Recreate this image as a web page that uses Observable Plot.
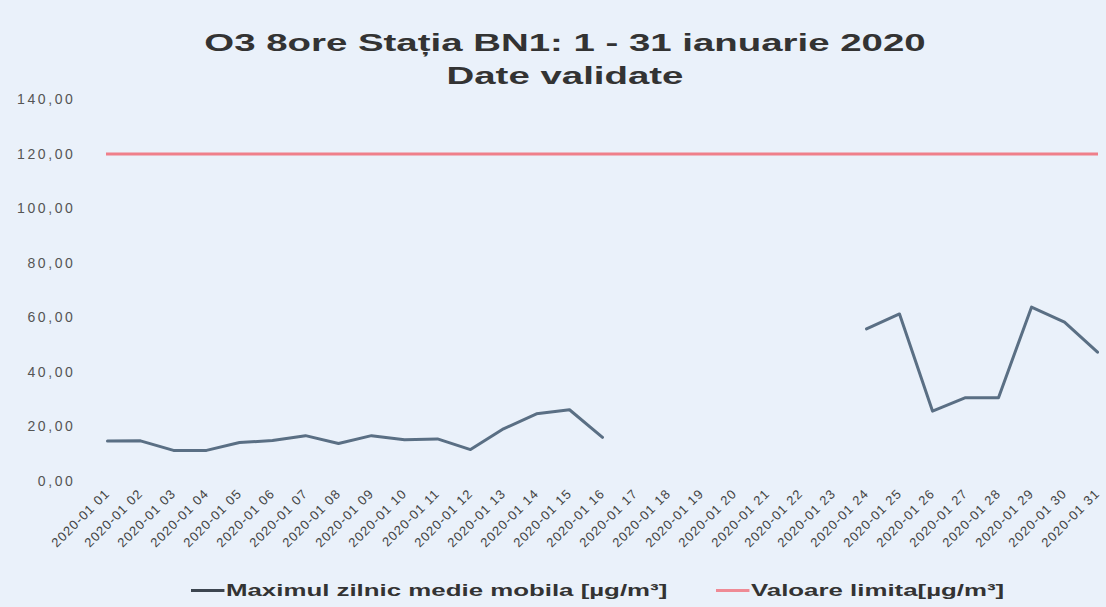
<!DOCTYPE html>
<html>
<head>
<meta charset="utf-8">
<script src="https://cdn.jsdelivr.net/npm/d3@7"></script>
<script src="https://cdn.jsdelivr.net/npm/@observablehq/plot@0.6"></script>
<style>
  html, body { margin: 0; padding: 0; background: #f1f3fa; }
  #wrap { position: relative; width: 1106px; height: 607px; background: #eaf1fa; overflow: hidden; font-family: "Liberation Sans", Arial, sans-serif; }
  #title { position: absolute; left: 0; top: 26px; width: 1130px; text-align: center; font-weight: bold; font-size: 24px; line-height: 33px; color: #333; transform: scaleX(1.6); transform-origin: 565px 0; }
  #chart { position: absolute; left: 0; top: 90px; }
  #chart g[aria-label="y-axis tick label"] text { letter-spacing: 2.6px; }
  #chart g[aria-label="x-axis tick label"] text { letter-spacing: 1px; }
  .leg { position: absolute; top: 581px; font-weight: bold; font-size: 17px; color: #333; white-space: nowrap; transform: scaleX(1.52); transform-origin: 0 0; }
  .sw { display: inline-block; width: 22px; height: 3px; vertical-align: middle; margin-right: 1px; position: relative; top: -1px; }
</style>
</head>
<body>
<div id="wrap">
  <div id="title">O3 8ore Stația BN1: 1 - 31 ianuarie 2020<br>Date validate</div>
  <div id="chart"></div>
  <div class="leg" style="left:191px"><span class="sw" style="background:#3d4650"></span>Maximul zilnic medie mobila [µg/m³]</div>
  <div class="leg" style="left:716px"><span class="sw" style="background:#ef8a95"></span>Valoare limita[µg/m³]</div>
</div>
<script>
const dates = [
  "2020-01 01","2020-01 02","2020-01 03","2020-01 04","2020-01 05","2020-01 06","2020-01 07","2020-01 08",
  "2020-01 09","2020-01 10","2020-01 11","2020-01 12","2020-01 13","2020-01 14","2020-01 15","2020-01 16",
  "2020-01 17","2020-01 18","2020-01 19","2020-01 20","2020-01 21","2020-01 22","2020-01 23","2020-01 24",
  "2020-01 25","2020-01 26","2020-01 27","2020-01 28","2020-01 29","2020-01 30","2020-01 31"
];
const maxDaily = [
  14.8, 14.9, 11.4, 11.4, 14.3, 15.0, 16.8, 13.9,
  16.8, 15.3, 15.6, 11.7, 19.3, 24.8, 26.3, 16.2,
  null, null, null, null, null, null, null, 55.9,
  61.4, 25.8, 30.7, 30.7, 63.9, 58.4, 47.4
];
const limitValue = 120;
const yTicks = [0, 20, 40, 60, 80, 100, 120, 140];

const data = dates.map((d, i) => ({date: d, value: maxDaily[i]}));

const chart = Plot.plot({
  width: 1106,
  height: 460,
  marginLeft: 106,
  marginRight: 8,
  marginTop: 9,
  marginBottom: 69,
  style: { background: "transparent", fontFamily: "Liberation Sans, Arial, sans-serif", color: "#444" },
  x: { type: "point", domain: dates, padding: 0, label: null },
  y: { domain: [0, 140], label: null },
  marks: [
    Plot.axisY(yTicks, { tickSize: 0, tickPadding: 31, fontSize: 14, fill: "#555", tickFormat: d => d.toFixed(2).replace(".", ",") }),
    Plot.axisX({ tickSize: 0, tickPadding: 10, tickRotate: -45, fontSize: 13, fill: "#444", label: null }),
    Plot.ruleY([limitValue], { stroke: "#ef7f8a", strokeWidth: 3 }),
    Plot.line(data, { x: "date", y: "value", stroke: "#5a6f84", strokeWidth: 3, strokeLinejoin: "round" })
  ]
});
document.getElementById("chart").appendChild(chart);
</script>
</body>
</html>
